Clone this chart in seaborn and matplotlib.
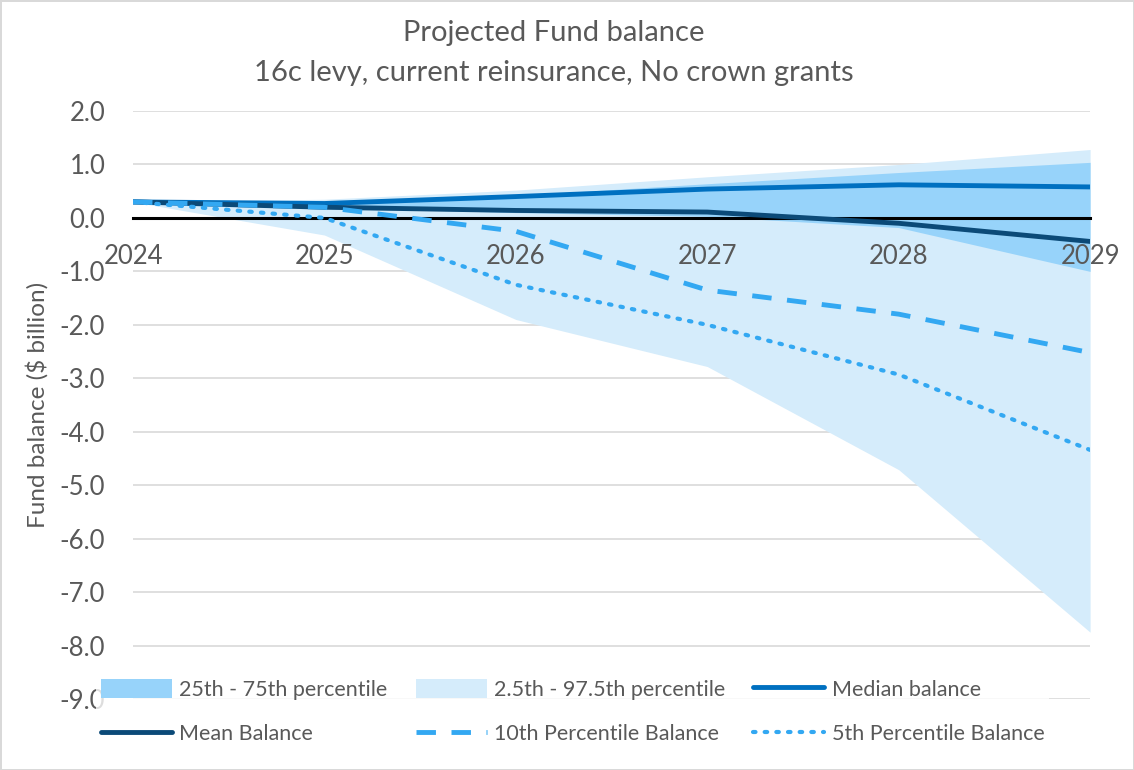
import numpy as np
import pandas as pd
import matplotlib.pyplot as plt
import seaborn as sns
from matplotlib.patches import Patch
from matplotlib.lines import Line2D

# valores
years = [2024, 2025, 2026, 2027, 2028, 2029]
p025 = [0.30, -0.32, -1.90, -2.78, -4.71, -7.75]
p975 = [0.30, 0.35, 0.52, 0.77, 1.00, 1.28]
p25 = [0.30, 0.20, 0.10, 0.03, -0.18, -1.00]
p75 = [0.30, 0.30, 0.42, 0.64, 0.85, 1.04]
median = [0.30, 0.27, 0.40, 0.54, 0.62, 0.58]
mean = [0.30, 0.20, 0.14, 0.11, -0.10, -0.44]
p10 = [0.30, 0.20, -0.25, -1.35, -1.80, -2.52]
p5 = [0.30, 0.00, -1.25, -2.00, -2.93, -4.34]

df = pd.DataFrame({'Year': years, 'p025': p025, 'p975': p975, 'p25': p25, 'p75': p75,
                   'Median': median, 'Mean': mean, 'P10': p10, 'P5': p5})

sns.set_style('white')
plt.rcParams['font.family'] = ['Lato', 'DejaVu Sans']
text_color = '#595959'

c_light = '#D5ECFB'
c_mid = '#97D3FA'
c_median = '#0070C0'
c_mean = '#0B4A78'
c_pct = '#33A8F2'
dash10 = (0, (4, 3.2))
dot5 = (0, (0.6, 2.2))

fig = plt.figure(figsize=(11.34, 7.7), dpi=100)
ax = fig.add_axes([0.1173, 0.0922, 0.8440, 0.7636])

ax.fill_between(df['Year'], df['p025'], df['p975'], color=c_light, lw=0, zorder=1)
ax.fill_between(df['Year'], df['p25'], df['p75'], color=c_mid, lw=0, zorder=1.1)

sns.lineplot(data=df, x='Year', y='Median', ax=ax, color=c_median, lw=3.5, zorder=3)
sns.lineplot(data=df, x='Year', y='Mean', ax=ax, color=c_mean, lw=3.5, zorder=3)
sns.lineplot(data=df, x='Year', y='P10', ax=ax, color=c_pct, lw=3.5, zorder=3,
             linestyle=dash10)
sns.lineplot(data=df, x='Year', y='P5', ax=ax, color=c_pct, lw=3, zorder=3,
             linestyle=dot5, dash_capstyle='round')

ax.set_xlim(2024, 2029)
ax.set_ylim(-9, 2)
ax.set_yticks(np.arange(-9, 2.5, 1))
ax.set_yticklabels([f'{v:.1f}' for v in np.arange(-9, 2.5, 1)])
ax.set_xticks(years)
ax.set_xticklabels([str(y) for y in years])
ax.yaxis.grid(True, color='#D9D9D9', lw=1.2)
ax.set_axisbelow(True)
ax.xaxis.set_zorder(4)

for s in ['left', 'right', 'top']:
    ax.spines[s].set_visible(False)
ax.spines['bottom'].set_position(('data', 0))
ax.spines['bottom'].set_color('black')
ax.spines['bottom'].set_linewidth(2.2)
ax.spines['bottom'].set_zorder(2.5)

ax.tick_params(axis='x', length=0, pad=19, labelsize=18.5, labelcolor=text_color)
ax.tick_params(axis='y', length=0, pad=20, labelsize=18.5, labelcolor=text_color)
ax.set_xlabel('')
ax.set_ylabel('Fund balance ($ billion)', fontsize=17.5, color=text_color, labelpad=8)

fig.text(0.488, 0.957, 'Projected Fund balance', ha='center', va='center',
         fontsize=21, color=text_color)
fig.text(0.488, 0.905, '16c levy, current reinsurance, No crown grants', ha='center',
         va='center', fontsize=21, color=text_color)

handles = [
    Patch(facecolor=c_mid, edgecolor='none', label='25th - 75th percentile'),
    Line2D([], [], color=c_mean, lw=3.5, label='Mean Balance'),
    Patch(facecolor=c_light, edgecolor='none', label='2.5th - 97.5th percentile'),
    Line2D([], [], color=c_pct, lw=3.5, linestyle=dash10, label='10th Percentile Balance'),
    Line2D([], [], color=c_median, lw=3.5, label='Median balance'),
    Line2D([], [], color=c_pct, lw=3, linestyle=dot5, dash_capstyle='round',
           label='5th Percentile Balance'),
]
leg = fig.legend(handles=handles, ncol=3, loc='center', bbox_to_anchor=(0.505, 0.076),
                 frameon=True, facecolor='white', edgecolor='none', fontsize=15.5,
                 handlelength=3.3, handleheight=1.0, labelspacing=1.08, columnspacing=1.3,
                 handletextpad=0.35, borderpad=0.2)
for t in leg.get_texts():
    t.set_color(text_color)

fig.patch.set_edgecolor('#D9D9D9')
fig.patch.set_linewidth(2)
fig.savefig('out.png', dpi=100, edgecolor=fig.get_edgecolor())
